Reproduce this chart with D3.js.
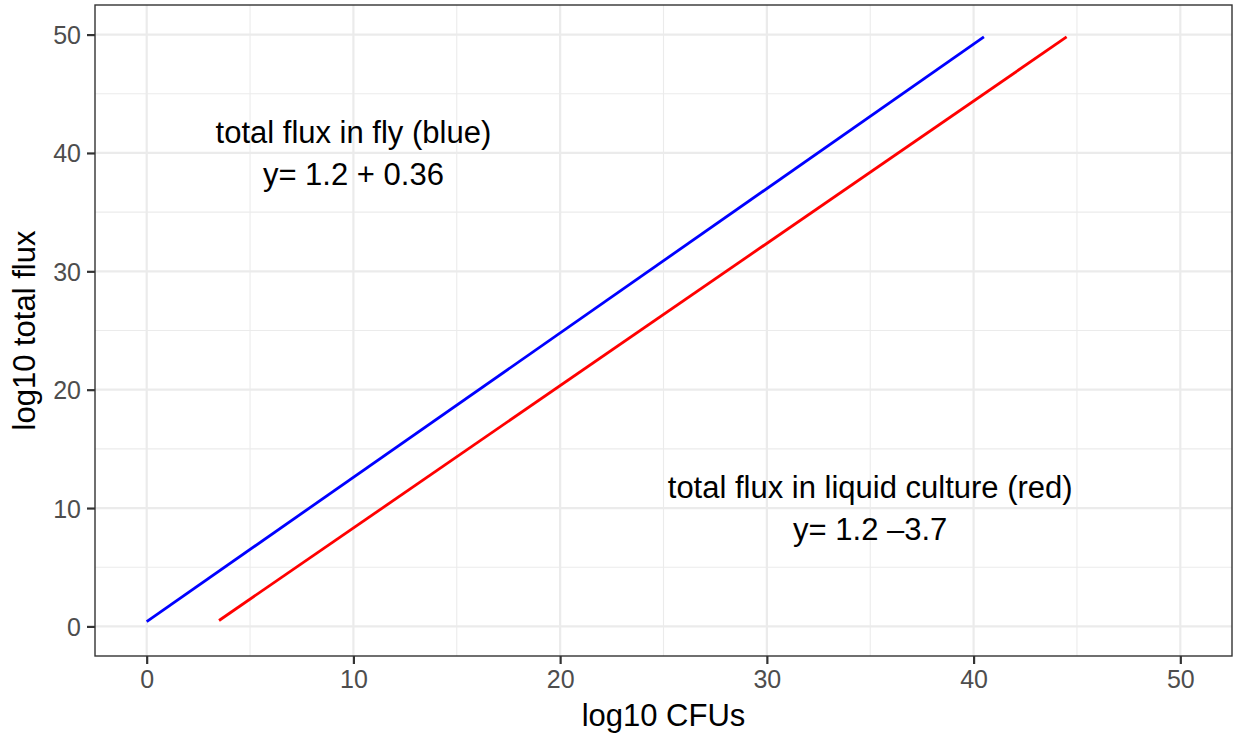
<!DOCTYPE html>
<html>
<head>
<meta charset="utf-8">
<script src="https://cdn.jsdelivr.net/npm/d3@7"></script>
<style>
  html, body { margin: 0; padding: 0; background: #ffffff; }
  svg { display: block; font-family: "Liberation Sans", Arial, Helvetica, sans-serif; }
</style>
</head>
<body>
<svg id="chart" width="1235" height="736"></svg>
<script>
// Fitted regression lines: log10 total flux against log10 CFUs
const flyLine = [
  { x: 0.0, y: 0.4 },
  { x: 40.5, y: 49.8 }
];
const cultureLine = [
  { x: 3.5, y: 0.5 },
  { x: 44.5, y: 49.8 }
];

const xTicks = [0, 10, 20, 30, 40, 50];
const yTicks = [0, 10, 20, 30, 40, 50];
const xMinor = [5, 15, 25, 35, 45];
const yMinor = [5, 15, 25, 35, 45];

// Text annotations placed in data coordinates
const annotations = [
  { x: 10, y: 40, lines: ["total flux in fly (blue)", "y= 1.2 + 0.36"] },
  { x: 35, y: 10, lines: ["total flux in liquid culture (red)", "y= 1.2 \u20133.7"] }
];

const xDomain = [-2.5, 52.5];
const yDomain = [-2.5, 52.5];

const svg = d3.select("#chart");
const panel = { left: 95, right: 1232, top: 5, bottom: 656 };

const x = d3.scaleLinear().domain(xDomain).range([panel.left, panel.right]);
const y = d3.scaleLinear().domain(yDomain).range([panel.bottom, panel.top]);

const g = svg.append("g");

// panel background
g.append("rect")
  .attr("x", panel.left).attr("y", panel.top)
  .attr("width", panel.right - panel.left)
  .attr("height", panel.bottom - panel.top)
  .attr("fill", "#ffffff");

// minor grid
g.append("g").selectAll("line").data(xMinor).join("line")
  .attr("x1", d => x(d)).attr("x2", d => x(d))
  .attr("y1", panel.top).attr("y2", panel.bottom)
  .attr("stroke", "#ebebeb").attr("stroke-width", 1.1);
g.append("g").selectAll("line").data(yMinor).join("line")
  .attr("y1", d => y(d)).attr("y2", d => y(d))
  .attr("x1", panel.left).attr("x2", panel.right)
  .attr("stroke", "#ebebeb").attr("stroke-width", 1.1);

// major grid
g.append("g").selectAll("line").data(xTicks).join("line")
  .attr("x1", d => x(d)).attr("x2", d => x(d))
  .attr("y1", panel.top).attr("y2", panel.bottom)
  .attr("stroke", "#ebebeb").attr("stroke-width", 2.2);
g.append("g").selectAll("line").data(yTicks).join("line")
  .attr("y1", d => y(d)).attr("y2", d => y(d))
  .attr("x1", panel.left).attr("x2", panel.right)
  .attr("stroke", "#ebebeb").attr("stroke-width", 2.2);

// regression lines
const line = d3.line().x(d => x(d.x)).y(d => y(d.y));
g.append("path").datum(flyLine)
  .attr("d", line).attr("fill", "none")
  .attr("stroke", "#0000ff").attr("stroke-width", 2.8);
g.append("path").datum(cultureLine)
  .attr("d", line).attr("fill", "none")
  .attr("stroke", "#ff0000").attr("stroke-width", 2.8);

// annotations (two centred lines around the anchor point)
annotations.forEach(a => {
  const t = g.append("text")
    .attr("x", x(a.x)).attr("y", y(a.y))
    .attr("text-anchor", "middle")
    .attr("font-size", 31)
    .attr("fill", "#000000");
  t.append("tspan").attr("x", x(a.x)).attr("dy", -10).text(a.lines[0]);
  t.append("tspan").attr("x", x(a.x)).attr("dy", 42).text(a.lines[1]);
});

// panel border
g.append("rect")
  .attr("x", panel.left).attr("y", panel.top)
  .attr("width", panel.right - panel.left)
  .attr("height", panel.bottom - panel.top)
  .attr("fill", "none").attr("stroke", "#333333").attr("stroke-width", 1.4);

// axes
const xAxis = d3.axisBottom(x).tickValues(xTicks).tickSize(8).tickPadding(6);
const yAxis = d3.axisLeft(y).tickValues(yTicks).tickSize(8).tickPadding(6);

const gx = svg.append("g").attr("transform", `translate(0,${panel.bottom})`).call(xAxis);
const gy = svg.append("g").attr("transform", `translate(${panel.left},0)`).call(yAxis);
[gx, gy].forEach(a => {
  a.select(".domain").remove();
  a.selectAll(".tick line").attr("stroke", "#333333").attr("stroke-width", 2.2);
  a.selectAll(".tick text")
    .attr("fill", "#4d4d4d")
    .attr("font-size", 25)
    .attr("font-family", "Liberation Sans, Arial, Helvetica, sans-serif");
});
gy.selectAll(".tick text").attr("dy", "0.36em");

// axis titles
svg.append("text")
  .attr("x", (panel.left + panel.right) / 2)
  .attr("y", 726)
  .attr("text-anchor", "middle")
  .attr("font-size", 31)
  .attr("fill", "#000000")
  .text("log10 CFUs");

svg.append("text")
  .attr("transform", `translate(35,${(panel.top + panel.bottom) / 2}) rotate(-90)`)
  .attr("text-anchor", "middle")
  .attr("font-size", 31)
  .attr("fill", "#000000")
  .text("log10 total flux");
</script>
</body>
</html>
